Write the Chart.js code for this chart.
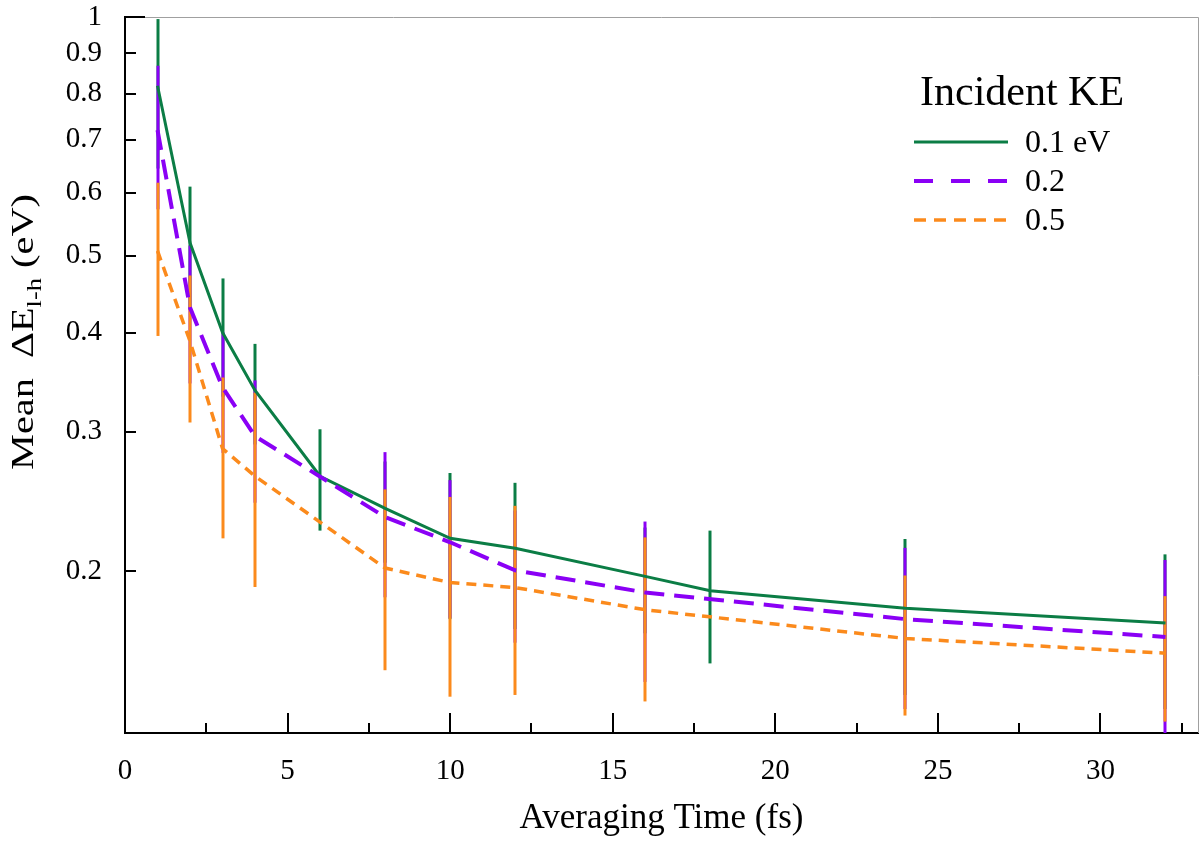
<!DOCTYPE html>
<html>
<head>
<meta charset="utf-8">
<script src="https://cdn.jsdelivr.net/npm/chart.js@4.4.0/dist/chart.umd.min.js"></script>
<style>
  html, body { margin: 0; padding: 0; background: #fff; }
  canvas { display: block; }
</style>
</head>
<body>
<canvas id="chart" width="1200" height="842"></canvas>
<script>
// averaging times (fs)
var timesGreen = [1, 2, 3, 4, 6, 8, 10, 12, 16, 18, 24, 32];
var timesOther = [1, 2, 3, 4, 8, 10, 12, 16, 24, 32];

// mean dE (eV) and error bar half-lengths
var meanGreen = [0.819, 0.519, 0.400, 0.338, 0.2635, 0.240, 0.220, 0.2138, 0.197, 0.189, 0.1796, 0.172];
var errGreen = [0.175, 0.092, 0.068, 0.049, 0.0385, 0.035, 0.046, 0.0447, 0.030, 0.036, 0.040, 0.038];
var meanPurple = [0.72, 0.430, 0.341, 0.296, 0.234, 0.2175, 0.2005, 0.188, 0.174, 0.1652];
var errPurple = [0.148, 0.085, 0.059, 0.052, 0.0486, 0.043, 0.038, 0.043, 0.040, 0.0414];
var meanOrange = [0.507, 0.390, 0.2855, 0.2635, 0.2018, 0.1935, 0.1907, 0.1788, 0.1645, 0.1576];
var errOrange = [0.111, 0.082, 0.0655, 0.0725, 0.0518, 0.0546, 0.0511, 0.0418, 0.033, 0.0284];

var seriesLabels = ['0.1 eV', '0.2', '0.5'];
var legendTitle = 'Incident KE';

var xTicks = [0, 5, 10, 15, 20, 25, 30];
var xMinorTicks = [2.5, 7.5, 12.5, 17.5, 22.5, 27.5, 32.5];
var yTicks = [0.2, 0.3, 0.4, 0.5, 0.6, 0.7, 0.8, 0.9, 1];
var yTickLabels = ['0.2', '0.3', '0.4', '0.5', '0.6', '0.7', '0.8', '0.9', '1'];

var serif = "'Liberation Serif', 'Times New Roman', serif";

function points(xs, ys) {
  return xs.map(function(x, i) { return { x: x, y: ys[i] }; });
}

// vertical error bars, drawn under the lines
var errorBars = {
  id: 'errorBars',
  beforeDatasetsDraw: function(chart) {
    var ctx = chart.ctx, xs = chart.scales.x, ys = chart.scales.y, a = chart.chartArea;
    ctx.save();
    ctx.beginPath();
    ctx.rect(a.left, a.top, a.right - a.left, a.bottom - a.top);
    ctx.clip();
    chart.data.datasets.forEach(function(ds) {
      ctx.strokeStyle = ds.borderColor;
      ctx.lineWidth = 3;
      ds.data.forEach(function(p, i) {
        var e = ds.errors[i];
        var px = Math.round(xs.getPixelForValue(p.x));
        ctx.beginPath();
        ctx.moveTo(px, ys.getPixelForValue(p.y + e));
        ctx.lineTo(px, ys.getPixelForValue(p.y - e));
        ctx.stroke();
      });
    });
    ctx.restore();
  }
};

// inward tick marks, gray frame, y title and legend
var decorations = {
  id: 'decorations',
  afterDraw: function(chart) {
    var ctx = chart.ctx, xs = chart.scales.x, ys = chart.scales.y, a = chart.chartArea;
    ctx.save();

    ctx.strokeStyle = '#a0a0a0';
    ctx.lineWidth = 1;
    ctx.beginPath();
    ctx.moveTo(a.left, a.top + 0.5);
    ctx.lineTo(a.right + 0.5, a.top + 0.5);
    ctx.lineTo(a.right + 0.5, a.bottom);
    ctx.stroke();

    ctx.strokeStyle = '#000';
    ctx.lineWidth = 2;
    ctx.beginPath();
    xTicks.forEach(function(v) {
      var px = Math.round(xs.getPixelForValue(v));
      ctx.moveTo(px, a.bottom); ctx.lineTo(px, a.bottom - 20);
    });
    xMinorTicks.forEach(function(v) {
      var px = Math.round(xs.getPixelForValue(v));
      ctx.moveTo(px, a.bottom); ctx.lineTo(px, a.bottom - 10);
    });
    yTicks.forEach(function(v) {
      var py = Math.round(ys.getPixelForValue(v));
      ctx.moveTo(a.left, py); ctx.lineTo(a.left + (v === 1 ? 20 : 11), py);
    });
    ctx.stroke();

    // y axis title with subscript, stretched along its length like the original
    ctx.fillStyle = '#000';
    ctx.textBaseline = 'alphabetic';
    var big = '32px ' + serif, small = '21px ' + serif;
    var parts = [['Mean  \u0394E', big, 0], ['l-h', small, 8], [' (eV)', big, 0]];
    var total = 0;
    parts.forEach(function(p) { ctx.font = p[1]; total += ctx.measureText(p[0]).width; });
    ctx.translate(33, 332);
    ctx.rotate(-Math.PI / 2);
    ctx.scale(1.26, 1);
    var x = -total / 2;
    parts.forEach(function(p) {
      ctx.font = p[1];
      ctx.fillText(p[0], x, p[2]);
      x += ctx.measureText(p[0]).width;
    });
    ctx.setTransform(1, 0, 0, 1, 0, 0);

    // legend
    var legendDash = [[], [19, 18], [12, 8]];
    ctx.font = '42px ' + serif;
    ctx.textAlign = 'left';
    ctx.fillText(legendTitle, 920, 105);
    ctx.font = '32px ' + serif;
    chart.data.datasets.forEach(function(ds, i) {
      var ly = 142 + i * 39;
      ctx.strokeStyle = ds.borderColor;
      ctx.lineWidth = ds.borderWidth;
      ctx.setLineDash(legendDash[i]);
      ctx.beginPath();
      ctx.moveTo(914, ly);
      ctx.lineTo(1008, ly);
      ctx.stroke();
      ctx.setLineDash([]);
      ctx.fillText(ds.label, 1025, ly + 10);
    });
    ctx.restore();
  }
};

var data = {
  datasets: [
    {
      label: seriesLabels[0],
      data: points(timesGreen, meanGreen),
      errors: errGreen,
      borderColor: '#0b7d45',
      borderWidth: 3,
      order: 3
    },
    {
      label: seriesLabels[1],
      data: points(timesOther, meanPurple),
      errors: errPurple,
      borderColor: '#8a00f5',
      borderWidth: 4,
      borderDash: [20, 10],
      order: 2
    },
    {
      label: seriesLabels[2],
      data: points(timesOther, meanOrange),
      errors: errOrange,
      borderColor: '#fb8a1c',
      borderWidth: 3.5,
      borderDash: [10, 7],
      order: 1
    }
  ]
};

var options = {
  responsive: false,
  animation: false,
  devicePixelRatio: 1,
  layout: { padding: { top: 17, right: 2, bottom: 0, left: 0 } },
  elements: {
    point: { radius: 0 },
    line: { tension: 0, fill: false }
  },
  plugins: {
    legend: { display: false },
    tooltip: { enabled: false }
  },
  scales: {
    x: {
      type: 'linear',
      min: 0,
      max: 33,
      offset: false,
      grid: { display: false, drawTicks: false },
      border: { display: true, color: '#000', width: 2 },
      afterBuildTicks: function(scale) {
        scale.ticks = xTicks.map(function(v) { return { value: v }; });
      },
      afterFit: function(scale) {
        scale.height = 109;
        scale.paddingLeft = 0;
        scale.paddingRight = 0;
      },
      ticks: {
        padding: 21,
        color: '#000',
        maxRotation: 0,
        font: { family: serif, size: 29 }
      },
      title: {
        display: true,
        text: 'Averaging Time (fs)',
        color: '#000',
        font: { family: serif, size: 35 },
        padding: { top: 0, bottom: 2 }
      }
    },
    y: {
      type: 'logarithmic',
      min: 0.125,
      max: 1,
      grid: { display: false, drawTicks: false },
      border: { display: true, color: '#000', width: 2 },
      afterBuildTicks: function(scale) {
        scale.ticks = yTicks.map(function(v) { return { value: v }; });
      },
      afterFit: function(scale) {
        scale.width = 125;
        scale.paddingTop = 0;
        scale.paddingBottom = 0;
      },
      ticks: {
        padding: 23,
        color: '#000',
        font: { family: serif, size: 29 },
        callback: function(value, index) { return yTickLabels[index]; }
      }
    }
  }
};

new Chart(document.getElementById('chart'), {
  type: 'line',
  data: data,
  options: options,
  plugins: [errorBars, decorations]
});
</script>
</body>
</html>
